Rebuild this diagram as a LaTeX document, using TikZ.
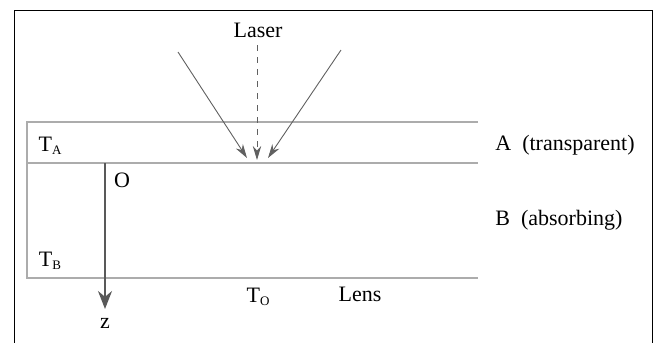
\documentclass[tikz,border=0pt]{standalone}
\usepackage{fontspec}
\setmainfont{Liberation Serif}
\usetikzlibrary{arrows.meta}
\newcommand{\lowsub}[1]{\raisebox{-0.35ex}{\fontsize{6.5}{7}\selectfont #1}}

\begin{document}
\begin{tikzpicture}[x=0.5pt,y=-0.5pt,
  layer/.style={gray!65,line width=1.1pt},
  ray/.style={gray!75!black,line width=0.45pt,-{Stealth[length=7pt,width=4.2pt]}},
  txt/.style={inner sep=0pt,font=\fontsize{11}{13}\selectfont}]
 \useasboundingbox (0,0) rectangle (655,343);
 % open frame
 \draw[line width=0.9pt] (14.5,343)--(14.5,10.5)--(652.5,10.5)--(652.5,343);
 % layers A and B
 \draw[layer] (478,122)--(27,122)--(27,278)--(478,278);
 \draw[layer] (27,163)--(478,163);
 % laser rays
 \node[txt] (laser) at (258,30) {Laser};
 \coordinate (s1) at (178,52);
 \coordinate (s2) at (257,45);
 \coordinate (s3) at (341,50);
 \coordinate (h1) at (247,158);
 \coordinate (h2) at (257,160);
 \coordinate (h3) at (268,158);
 \draw[ray] (s1)--(h1);
 \draw[ray,dashed] (s2)--(h2);
 \draw[ray] (s3)--(h3);
 % z axis
 \coordinate (o) at (105,163);
 \coordinate (zend) at (105,309);
 \draw[gray!70!black,line width=0.9pt,-{Stealth[length=9pt,width=7pt]}] (o)--(zend);
 % labels
 \node[txt] (ta) at (50,146) {T\lowsub{A}};
 \node[txt] (ob) at (122,180) {O};
 \node[txt] (tb) at (50,261) {T\lowsub{B}};
 \node[txt] (zl) at (105,323) {z};
 \node[txt] (to) at (258,297) {T\lowsub{O}};
 \node[txt] (lens) at (360,294) {Lens};
 \node[txt,anchor=west] (la) at (495,145) {A\ \ (transparent)};
 \node[txt,anchor=west] (lb) at (495,220) {B\ \ (absorbing)};
\end{tikzpicture}
\end{document}
